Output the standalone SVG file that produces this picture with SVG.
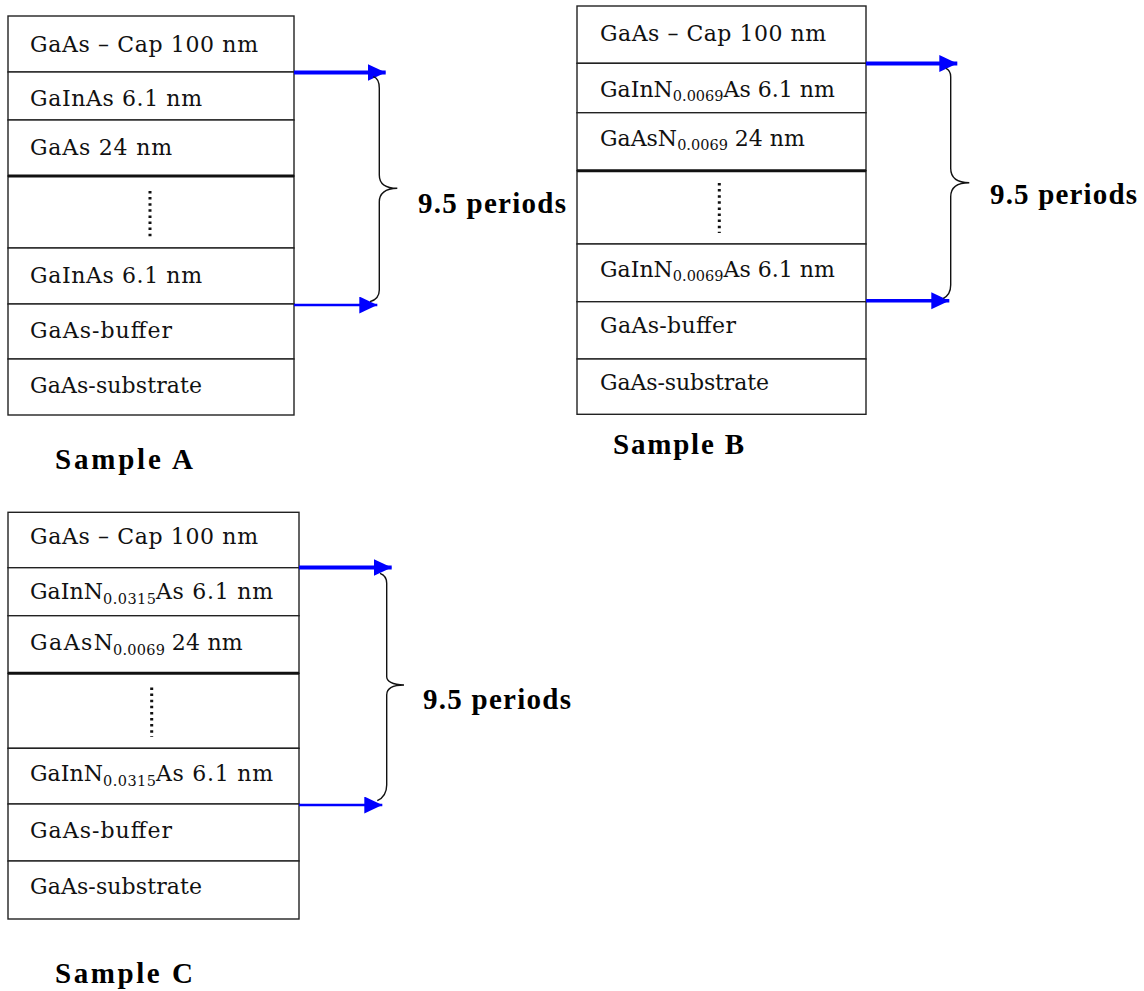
<svg xmlns="http://www.w3.org/2000/svg" width="1144" height="991" viewBox="0 0 1144 991">
<style>
.layer{fill:#fff;stroke:#222;stroke-width:1.4}
.sep{stroke:#111;stroke-width:3}
.t{font-family:"DejaVu Serif","Liberation Serif",serif;font-size:22px;fill:#111}
.sub{font-size:14.5px}
.dots{stroke:#111;stroke-width:3;stroke-dasharray:2.5 3.6}
.lbl{font-family:"Liberation Serif","Times New Roman",serif;font-size:29px;font-weight:bold;fill:#000}
.arr{stroke:#0000ff;fill:none}
.brace{stroke:#111;stroke-width:1.4;fill:none}
</style>
<defs>
<marker id="ah" markerUnits="userSpaceOnUse" markerWidth="20" markerHeight="18" refX="18" refY="8.5" orient="auto">
<path d="M0,0 L18,8.5 L0,17 Z" fill="#0000ff"/>
</marker>
</defs>

<!-- Sample A -->
<g id="sampleA">
<g id="A-cap"><rect class="layer" x="8" y="16" width="286" height="56"/><text class="t" x="30" y="52" textLength="228" lengthAdjust="spacing">GaAs – Cap  100 nm</text></g>
<g id="A-well1"><rect class="layer" x="8" y="72" width="286" height="48"/><text class="t" x="30" y="106" textLength="172" lengthAdjust="spacing">GaInAs 6.1 nm</text></g>
<g id="A-barrier"><rect class="layer" x="8" y="120" width="286" height="56"/><text class="t" x="30" y="155" textLength="142" lengthAdjust="spacing">GaAs 24 nm</text></g>
<g id="A-dots"><rect class="layer" x="8" y="176" width="286" height="72"/><line class="sep" x1="8" y1="176" x2="294" y2="176"/><line class="dots" x1="150" y1="191" x2="150" y2="239"/></g>
<g id="A-well2"><rect class="layer" x="8" y="248" width="286" height="56"/><text class="t" x="30" y="283" textLength="172" lengthAdjust="spacing">GaInAs 6.1 nm</text></g>
<g id="A-buffer"><rect class="layer" x="8" y="304" width="286" height="55"/><text class="t" x="30" y="338" textLength="142" lengthAdjust="spacing">GaAs-buffer</text></g>
<g id="A-substrate"><rect class="layer" x="8" y="359" width="286" height="56"/><text class="t" x="30" y="393" textLength="172" lengthAdjust="spacing">GaAs-substrate</text></g>
<text id="A-label" class="lbl" x="55" y="469" textLength="138" lengthAdjust="spacing">Sample A</text>
<text id="A-periods" class="lbl" x="418" y="212.5" textLength="148" lengthAdjust="spacing">9.5 periods</text>
</g>

<!-- Sample B -->
<g id="sampleB">
<g id="B-cap"><rect class="layer" x="577" y="6" width="289" height="57.3"/><text class="t" x="600" y="40.7" textLength="226" lengthAdjust="spacing">GaAs – Cap 100 nm</text></g>
<g id="B-well1"><rect class="layer" x="577" y="63.3" width="289" height="49.4"/><text class="t" x="600" y="96.7">GaInN<tspan class="sub" dy="4">0.0069</tspan><tspan dy="-4">As 6.1 nm</tspan></text></g>
<g id="B-barrier"><rect class="layer" x="577" y="112.7" width="289" height="58"/><text class="t" x="600" y="145.7">GaAsN<tspan class="sub" dy="4">0.0069</tspan><tspan dy="-4"> 24 nm</tspan></text></g>
<g id="B-dots"><rect class="layer" x="577" y="170.7" width="289" height="73.3"/><line class="sep" x1="577" y1="170.7" x2="866" y2="170.7"/><line class="dots" x1="719.3" y1="183" x2="719.3" y2="233"/></g>
<g id="B-well2"><rect class="layer" x="577" y="244" width="289" height="57.7"/><text class="t" x="600" y="276.7">GaInN<tspan class="sub" dy="4">0.0069</tspan><tspan dy="-4">As 6.1 nm</tspan></text></g>
<g id="B-buffer"><rect class="layer" x="577" y="301.7" width="289" height="57.3"/><text class="t" x="600" y="333.3" textLength="136" lengthAdjust="spacing">GaAs-buffer</text></g>
<g id="B-substrate"><rect class="layer" x="577" y="359" width="289" height="55.3"/><text class="t" x="600" y="390" textLength="169" lengthAdjust="spacing">GaAs-substrate</text></g>
<text id="B-label" class="lbl" x="613" y="454" textLength="131" lengthAdjust="spacing">Sample B</text>
<text id="B-periods" class="lbl" x="990" y="204" textLength="147" lengthAdjust="spacing">9.5 periods</text>
</g>

<!-- Sample C -->
<g id="sampleC">
<g id="C-cap"><rect class="layer" x="8" y="512.3" width="291" height="55.4"/><text class="t" x="30" y="544.3" textLength="228" lengthAdjust="spacing">GaAs – Cap  100 nm</text></g>
<g id="C-well1"><rect class="layer" x="8" y="567.7" width="291" height="48"/><text class="t" x="30" y="599.3"><tspan textLength="73" lengthAdjust="spacing">GaInN</tspan><tspan class="sub" x="103" dy="5" textLength="53" lengthAdjust="spacing">0.0315</tspan><tspan x="156" dy="-5" textLength="117" lengthAdjust="spacing">As 6.1 nm</tspan></text></g>
<g id="C-barrier"><rect class="layer" x="8" y="615.7" width="291" height="57.6"/><text class="t" x="30" y="650"><tspan textLength="83" lengthAdjust="spacing">GaAsN</tspan><tspan class="sub" x="113" dy="5" textLength="52" lengthAdjust="spacing">0.0069</tspan><tspan x="171.7" dy="-5" textLength="71" lengthAdjust="spacing">24 nm</tspan></text></g>
<g id="C-dots"><rect class="layer" x="8" y="673.3" width="291" height="75"/><line class="sep" x1="8" y1="673.3" x2="299" y2="673.3"/><line class="dots" x1="151.7" y1="687.5" x2="151.7" y2="737"/></g>
<g id="C-well2"><rect class="layer" x="8" y="748.3" width="291" height="55.7"/><text class="t" x="30" y="781"><tspan textLength="73" lengthAdjust="spacing">GaInN</tspan><tspan class="sub" x="103" dy="5" textLength="53" lengthAdjust="spacing">0.0315</tspan><tspan x="156" dy="-5" textLength="117" lengthAdjust="spacing">As 6.1 nm</tspan></text></g>
<g id="C-buffer"><rect class="layer" x="8" y="804" width="291" height="57"/><text class="t" x="30" y="837.7" textLength="142" lengthAdjust="spacing">GaAs-buffer</text></g>
<g id="C-substrate"><rect class="layer" x="8" y="861" width="291" height="58"/><text class="t" x="30" y="894.3" textLength="172" lengthAdjust="spacing">GaAs-substrate</text></g>
<text id="C-label" class="lbl" x="55" y="983" textLength="138" lengthAdjust="spacing">Sample C</text>
<text id="C-periods" class="lbl" x="423" y="709" textLength="148" lengthAdjust="spacing">9.5 periods</text>
</g>

<!-- connectors -->
<g id="connectors">
<line class="arr" x1="294" y1="72.5" x2="385.7" y2="72.5" stroke-width="4" marker-end="url(#ah)"/>
<line class="arr" x1="294" y1="305" x2="377.3" y2="305" stroke-width="2.6" marker-end="url(#ah)"/>
<path class="brace" d="M373.3,76.7 C377.5,78 379.3,82 379.3,88.3 L379.3,175 C379.3,183 385,188.3 397.3,188.3 C385,188.3 379.3,194 379.3,201.7 L379.3,290 C379.3,296 376,300 370,301.7"/>

<line class="arr" x1="866" y1="63.5" x2="957.3" y2="63.5" stroke-width="4" marker-end="url(#ah)"/>
<line class="arr" x1="866" y1="300.7" x2="949.3" y2="300.7" stroke-width="3.4" marker-end="url(#ah)"/>
<path class="brace" d="M946,68.3 C949.5,70 950.7,72.5 950.7,76.7 L950.7,168.3 C950.7,177 956,182.7 969.3,182.7 C956,182.7 950.7,188 950.7,196.7 L950.7,285 C950.7,291 948,296 943.3,298.3"/>

<line class="arr" x1="299" y1="567.5" x2="391.7" y2="567.5" stroke-width="4" marker-end="url(#ah)"/>
<line class="arr" x1="299" y1="805" x2="382.3" y2="805" stroke-width="2.6" marker-end="url(#ah)"/>
<path class="brace" d="M380,573.3 C385,575 386.7,578 386.7,583.3 L386.7,676.7 C386.7,681 392,685 404,685 C392,685 386.7,689 386.7,695 L386.7,785 C386.7,792 383,798 377.3,800.7"/>
</g>
</svg>
